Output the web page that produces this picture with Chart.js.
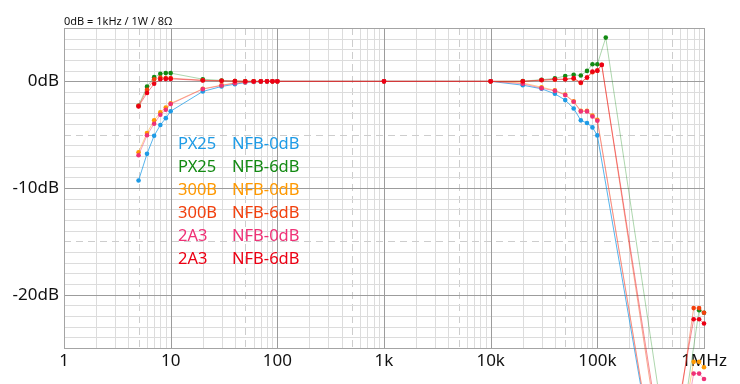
<!DOCTYPE html>
<html><head><meta charset="utf-8">
<script src="https://cdn.jsdelivr.net/npm/chart.js@4"></script>
<style>html,body{margin:0;padding:0;background:#fff}#wrap{width:740px;height:384px;position:relative}</style>
</head><body><div id="wrap"><canvas id="c"></canvas></div>
<script>
// ---- data ----
const titleText = '0dB = 1kHz / 1W / 8Ω';
const tubeNames = ['PX25', 'PX25', '300B', '300B', '2A3', '2A3'];
const nfbNames = ['NFB-0dB', 'NFB-6dB', 'NFB-0dB', 'NFB-6dB', 'NFB-0dB', 'NFB-6dB'];
const seriesColors = ['#1e9be6', '#138a13', '#ff9900', '#f2400d', '#ef3176', '#ec0014'];
const xTickValues = [1, 10, 100, 1000, 10000, 100000, 1000000];
const xTickLabels = ['1', '10', '100', '1k', '10k', '100k', '1MHz'];
const yTickValues = [-20, -10, 0];
const yTickLabels = ['-20dB', '-10dB', '0dB'];

const freqBase = [5, 6, 7, 8, 9, 10, 20, 30, 40, 50, 60, 70, 80, 90, 100, 1000, 10000,
  20000, 30000, 40000, 50000, 60000, 70000, 80000, 90000, 100000];

const px25Nfb0Freq = freqBase.concat([420000, 800000, 900000, 1000000]);
const px25Nfb0dB = [-9.3, -6.8, -5.1, -4.1, -3.45, -2.8, -0.95, -0.48, -0.27, -0.12, -0.06, -0.03, -0.01, 0, 0, 0, 0,
  -0.36, -0.7, -1.17, -1.76, -2.54, -3.66, -3.91, -4.32, -5.07, -41, -30, -30, -30.5];

const px25Nfb6Freq = freqBase.concat([120000, 510000, 900000, 1000000]);
const px25Nfb6dB = [-2.3, -0.5, 0.39, 0.7, 0.77, 0.77, 0.2, 0.08, 0.03, 0.01, 0, 0, 0, 0, 0, 0, 0,
  0.02, 0.15, 0.28, 0.5, 0.61, 0.55, 0.98, 1.6, 1.6, 4.1, -38, -21.45, -21.7];

const b300Nfb0Freq = freqBase.concat([430000, 800000, 900000, 1000000]);
const b300Nfb0dB = [-6.65, -4.84, -3.66, -2.9, -2.45, -2.07, -0.7, -0.36, -0.16, -0.08, -0.04, -0.02, 0, 0, 0, 0, 0,
  -0.15, -0.55, -0.85, -1.25, -1.88, -2.76, -2.76, -3.2, -3.6, -41.6, -26.3, -26.3, -26.8];

const b300Nfb6Freq = freqBase.concat([110000, 450000, 800000, 900000, 1000000]);
const b300Nfb6dB = [-2.3, -0.8, 0.2, 0.36, 0.3, 0.3, 0.1, 0.05, 0.02, 0, 0, 0, 0, 0, 0, 0, 0,
  0, 0.1, 0.15, 0.2, 0.25, -0.15, 0.35, 0.85, 1.0, 1.55, -38.6, -21.26, -21.26, -21.7];

const a23Nfb0Freq = freqBase.concat([440000, 800000, 900000, 1000000]);
const a23Nfb0dB = [-6.93, -5.06, -3.97, -3.13, -2.66, -2.13, -0.73, -0.39, -0.17, -0.08, -0.04, -0.02, 0, 0, 0, 0, 0,
  -0.23, -0.64, -0.89, -1.29, -1.92, -2.82, -2.82, -3.29, -3.69, -42.2, -27.4, -27.4, -27.9];

const a23Nfb6Freq = freqBase.concat([110000, 440000, 800000, 900000, 1000000]);
const a23Nfb6dB = [-2.35, -1.1, -0.23, 0.2, 0.23, 0.23, 0.08, 0.05, 0.02, 0, 0, 0, 0, 0, 0, 0, 0,
  0, 0.12, 0.2, 0.2, 0.3, -0.11, 0.36, 0.92, 1.0, 1.54, -37, -22.3, -22.3, -22.7];

const seriesFreqs = [px25Nfb0Freq, px25Nfb6Freq, b300Nfb0Freq, b300Nfb6Freq, a23Nfb0Freq, a23Nfb6Freq];
const seriesValues = [px25Nfb0dB, px25Nfb6dB, b300Nfb0dB, b300Nfb6dB, a23Nfb0dB, a23Nfb6dB];
const drawOrder = [5, 4, 3, 2, 1, 0];

// ---- helpers ----
function hexA(hex, a) {
  const n = parseInt(hex.slice(1), 16);
  return `rgba(${(n >> 16) & 255},${(n >> 8) & 255},${n & 255},${a})`;
}
const lineAlpha = [0.75, 0.35, 0.45, 0.45, 0.45, 0.45];

const datasets = seriesValues.map((vals, i) => ({
  label: tubeNames[i] + ' ' + nfbNames[i],
  data: vals.map((v, k) => ({ x: seriesFreqs[i][k], y: v })),
  borderColor: hexA(seriesColors[i], lineAlpha[i]),
  backgroundColor: seriesColors[i],
  pointBackgroundColor: seriesColors[i],
  pointBorderWidth: 0,
  pointRadius: 2.3,
  borderWidth: 1,
  tension: 0,
  clip: false,
  order: drawOrder[i]
}));

const FONT = '"Noto Sans", "Open Sans", "DejaVu Sans", sans-serif';

const gridPlugin = {
  id: 'customGrid',
  beforeDatasetsDraw(chart) {
    const { ctx, chartArea: a, scales } = chart;
    const xs = scales.x, ys = scales.y;
    const P = v => Math.round(v) + 0.5;
    ctx.save();
    ctx.lineWidth = 1;
    for (let d = 0; d < 6; d++) {
      for (let m = 2; m <= 9; m++) {
        const px = P(xs.getPixelForValue(m * Math.pow(10, d)));
        ctx.beginPath();
        if (m === 5) { ctx.setLineDash([7, 5]); ctx.strokeStyle = '#cdcdcd'; }
        else { ctx.setLineDash([]); ctx.strokeStyle = '#dcdcdc'; }
        ctx.moveTo(px, a.top); ctx.lineTo(px, a.bottom); ctx.stroke();
      }
    }
    for (let v = -24; v <= 4; v++) {
      if (v % 10 === 0) continue;
      const py = P(ys.getPixelForValue(v));
      ctx.beginPath();
      if (v % 5 === 0) { ctx.setLineDash([7, 5]); ctx.strokeStyle = '#cdcdcd'; }
      else { ctx.setLineDash([]); ctx.strokeStyle = '#dcdcdc'; }
      ctx.moveTo(a.left, py); ctx.lineTo(a.right, py); ctx.stroke();
    }
    ctx.setLineDash([]);
    ctx.strokeStyle = '#9c9c9c';
    for (let d = 1; d < 6; d++) {
      const px = P(xs.getPixelForValue(Math.pow(10, d)));
      ctx.beginPath(); ctx.moveTo(px, a.top); ctx.lineTo(px, a.bottom); ctx.stroke();
    }
    [0, -10, -20].forEach(v => {
      const py = P(ys.getPixelForValue(v));
      ctx.beginPath(); ctx.moveTo(a.left, py); ctx.lineTo(a.right, py); ctx.stroke();
    });
    ctx.strokeStyle = '#a4a4a4';
    ctx.strokeRect(Math.round(a.left) + 0.5, Math.round(a.top) + 0.5,
      Math.round(a.right - a.left), Math.round(a.bottom - a.top));
    ctx.restore();
  }
};

const outsidePointsPlugin = {
  id: 'outsidePoints',
  afterDatasetsDraw(chart) {
    const a = chart.chartArea;
    const big = { left: -9999, top: -9999, right: 99999, bottom: 99999 };
    const metas = chart.getSortedVisibleDatasetMetas();
    for (let i = metas.length - 1; i >= 0; i--) {
      metas[i].data.forEach(el => {
        const r = 3;
        if (el.x < a.left - r || el.x > a.right + r || el.y < a.top - r || el.y > a.bottom + r) {
          el.draw(chart.ctx, big);
        }
      });
    }
  }
};

const textPlugin = {
  id: 'texts',
  afterDraw(chart) {
    const { ctx, chartArea: a } = chart;
    ctx.save();
    ctx.textBaseline = 'alphabetic';
    ctx.textAlign = 'left';
    ctx.fillStyle = '#111';
    ctx.font = '11px ' + FONT;
    ctx.fillText(titleText, a.left, 25);
    ctx.font = '16.5px ' + FONT;
    for (let i = 0; i < tubeNames.length; i++) {
      ctx.fillStyle = seriesColors[i];
      const y = 148.5 + i * 23;
      ctx.fillText(tubeNames[i], 178, y);
      ctx.fillText(nfbNames[i], 232, y);
    }
    ctx.restore();
  }
};

new Chart(document.getElementById('c'), {
  type: 'line',
  data: { datasets },
  options: {
    responsive: true,
    maintainAspectRatio: false,
    animation: false,
    events: [],
    layout: { padding: { left: 0, right: 36, top: 28, bottom: 0 } },
    plugins: { legend: { display: false }, title: { display: false }, tooltip: { enabled: false } },
    scales: {
      x: {
        type: 'logarithmic', min: 1, max: 1000000,
        grid: { display: false, drawTicks: false }, border: { display: false },
        afterBuildTicks: s => { s.ticks = xTickValues.map(v => ({ value: v })); },
        afterFit: s => { s.height = 36; },
        ticks: {
          autoSkip: false, maxRotation: 0, padding: 3, color: '#111',
          font: { family: FONT, size: 17 },
          callback: (v, i) => xTickLabels[i]
        }
      },
      y: {
        type: 'linear', min: -25, max: 5,
        grid: { display: false, drawTicks: false }, border: { display: false },
        afterBuildTicks: s => { s.ticks = yTickValues.map(v => ({ value: v })); },
        afterFit: s => { s.width = 64; },
        ticks: {
          padding: 5, color: '#111',
          font: { family: FONT, size: 17 },
          callback: (v, i) => yTickLabels[i]
        }
      }
    }
  },
  plugins: [gridPlugin, outsidePointsPlugin, textPlugin]
});
</script>
</body></html>
